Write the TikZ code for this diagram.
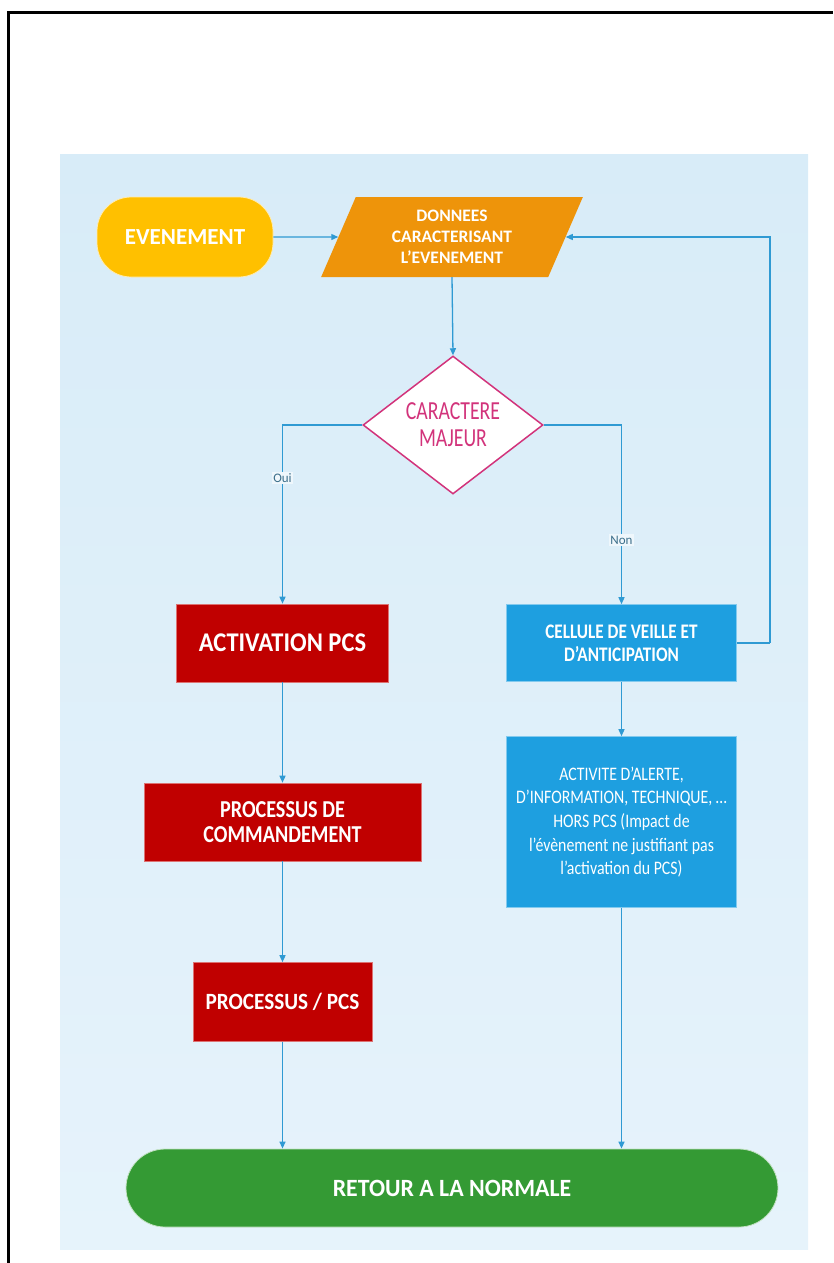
\documentclass[tikz,border=0pt]{standalone}
\usepackage{fontspec}
\setmainfont{Carlito}
\newfontfamily\fsA{Carlito}[FakeStretch=0.76]
\newfontfamily\fsB{Carlito}[FakeStretch=0.83]
\newfontfamily\fsC{Carlito}[FakeStretch=0.91]
\newfontfamily\fsD{Carlito}[FakeStretch=0.96]
\usetikzlibrary{shapes.geometric,arrows.meta}
\definecolor{bgtop}{HTML}{D8ECF8}
\definecolor{bgbot}{HTML}{E6F3FB}
\definecolor{evy}{HTML}{FFC000}
\definecolor{dono}{HTML}{EE940A}
\definecolor{redb}{HTML}{C00000}
\definecolor{blueb}{HTML}{1E9FE0}
\definecolor{greenb}{HTML}{349A34}
\definecolor{mag}{HTML}{D2337B}
\definecolor{conncol}{HTML}{2F9AD3}
\definecolor{lbltxt}{HTML}{3B6E8A}
\tikzset{
  boxbase/.style={inner sep=0pt, text=white, align=center},
  redbox/.style={boxbase, fill=redb, draw=redb!55!white, line width=0.6pt},
  bluebox/.style={boxbase, fill=blueb, draw=blueb!55!white, line width=0.6pt},
  pillbox/.style={boxbase, draw=white!70!#1, line width=0.8pt, fill=#1},
  conn/.style={draw=conncol, line width=1.3pt, -{Triangle[length=7pt,width=6pt]}},
  line/.style={draw=conncol, line width=1.3pt},
  lbl/.style={fill=white!60!bgtop, text=lbltxt, inner sep=1.5pt, font=\fontsize{13}{14}\selectfont},
}
\begin{document}
\begin{tikzpicture}[x=1pt,y=-1pt]
\useasboundingbox (0,0) rectangle (833,1263);
% frame
\draw[line width=3pt, black] (8,1263) -- (8,13) -- (833,13);
% panel
\shade[top color=bgtop, bottom color=bgbot] (60,154) rectangle (808,1249);
% nodes
\node[pillbox=evy, rounded corners=34pt, minimum width=176pt, minimum height=80pt,
  font=\fontsize{23}{26}\selectfont\bfseries] (ev) at (185,237) {EVENEMENT};
\node[boxbase, fill=dono, trapezium, trapezium left angle=68, trapezium right angle=112,
  trapezium stretches=true, minimum width=262pt, minimum height=80pt,
  font=\fontsize{17.5}{21}\selectfont\bfseries] (don) at (452,237)
  {DONNEES\\CARACTERISANT\\L’EVENEMENT};
\node[diamond, fill=white, draw=mag, line width=1.5pt, inner sep=0pt, aspect=1.3,
  minimum width=180pt, minimum height=138pt, text=mag, align=center,
  font=\fsA\fontsize{26}{26.7}\selectfont] (dia) at (453,425) {CARACTERE\\MAJEUR};
\node[redbox, minimum width=212pt, minimum height=78pt,
  font=\fsC\fontsize{27}{30}\selectfont\bfseries] (act) at (282.5,643) {ACTIVATION PCS};
\node[bluebox, minimum width=230pt, minimum height=77pt,
  font=\fsB\fontsize{20.7}{22.7}\selectfont\bfseries] (cel) at (621.5,643)
  {CELLULE DE VEILLE ET\\D’ANTICIPATION};
\node[redbox, minimum width=277pt, minimum height=78pt,
  font=\fsB\fontsize{24.3}{25}\selectfont\bfseries] (pc) at (282.5,822)
  {PROCESSUS DE\\COMMANDEMENT};
\node[bluebox, minimum width=230pt, minimum height=171pt,
  font=\fsB\fontsize{19.1}{23.7}\selectfont] (acti) at (621.5,822)
  {ACTIVITE D’ALERTE,\\D’INFORMATION, TECHNIQUE, …\\HORS PCS (Impact de\\l’évènement ne justifiant pas\\l’activation du PCS)};
\node[redbox, minimum width=179pt, minimum height=79pt,
  font=\fsC\fontsize{23.3}{25}\selectfont\bfseries] (pp) at (282.5,1002) {PROCESSUS / PCS};
\node[pillbox=greenb, rounded corners=39pt, minimum width=652pt, minimum height=78pt,
  font=\fsD\fontsize{24.8}{27}\selectfont\bfseries] (fin) at (452,1188) {RETOUR A LA NORMALE};
% helper coordinates
\coordinate (ret) at (770,643);
% connectors
\draw[conn] (ev.east) -- (don.west);
\draw[conn] (don.south) -- (dia.north);
\draw[conn] (dia.west) -| (act.north);
\draw[conn] (dia.east) -| (cel.north);
\draw[line] (cel.east) -- (ret);
\draw[conn] (ret) |- (don.east);
\draw[conn] (cel.south) -- (acti.north);
\draw[conn] (act.south) -- (pc.north);
\draw[conn] (pc.south) -- (pp.north);
\draw[conn] (pp.south) -- (pp.south |- fin.north);
\draw[conn] (acti.south) -- (acti.south |- fin.north);
% labels
\node[lbl] (oui) at (282.5,478) {Oui};
\node[lbl] (non) at (621.5,540) {Non};
\end{tikzpicture}
\end{document}
